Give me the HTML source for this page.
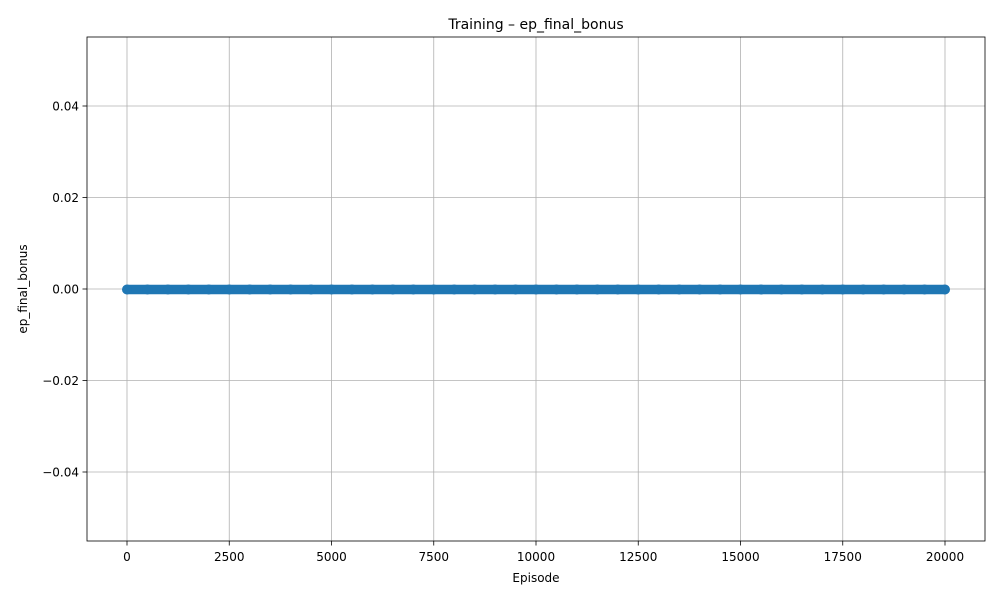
<!DOCTYPE html>
<html><head><meta charset="utf-8"><style>
body{margin:0;background:#fff;}
svg{display:block;font-family:"DejaVu Sans","Liberation Sans",sans-serif;}
</style></head><body>
<svg id="chart" width="1000" height="600" viewBox="0 0 1000 600">
<rect width="1000" height="600" fill="#fff"/>
<text x="536" y="29" font-size="14" text-anchor="middle">Training – ep_final_bonus</text>
<g id="grid"></g>
<g id="series"></g>
<rect x="87" y="37" width="898" height="504" fill="none" stroke="#000" stroke-width="0.8"/>
<g id="ticks" font-size="12"></g>
<text x="536" y="582" font-size="12" text-anchor="middle">Episode</text>
<text transform="translate(27,289) rotate(-90)" font-size="12" text-anchor="middle">ep_final_bonus</text>
</svg>
<script>
const xTicks=[0,2500,5000,7500,10000,12500,15000,17500,20000];
const yTicks=[-0.04,-0.02,0,0.02,0.04];
const yTickLabels=["\u22120.04","\u22120.02","0.00","0.02","0.04"];
const episodes=[0,500,1000,1500,2000,2500,3000,3500,4000,4500,5000,5500,6000,6500,7000,7500,8000,8500,9000,9500,10000,10500,11000,11500,12000,12500,13000,13500,14000,14500,15000,15500,16000,16500,17000,17500,18000,18500,19000,19500,20000];
const bonus=[0,0,0,0,0,0,0,0,0,0,0,0,0,0,0,0,0,0,0,0,0,0,0,0,0,0,0,0,0,0,0,0,0,0,0,0,0,0,0,0,0];
const NS="http://www.w3.org/2000/svg";
const xs=v=>127+v*(945-127)/20000;
const ys=v=>289.5-v*(289-106)/0.04;
const grid=document.getElementById('grid'),ticks=document.getElementById('ticks'),ser=document.getElementById('series');
function mk(tag,attrs,parent){const e=document.createElementNS(NS,tag);for(const k in attrs)e.setAttribute(k,attrs[k]);parent.appendChild(e);return e;}
xTicks.forEach(t=>{const x=xs(t);
 const g=mk('line',{x1:x,x2:x,y1:37,y2:541,stroke:'#b0b0b0','stroke-width':0.8},grid);
 
 
 mk('line',{x1:x,x2:x,y1:541,y2:545.5,stroke:'#000','stroke-width':0.8},ticks);
 const l=mk('text',{x:x,y:561,'text-anchor':'middle'},ticks);l.textContent=t;
 
 
});
yTicks.forEach((t,i)=>{const y=289-t*(289-106)/0.04;
 const g=mk('line',{x1:87,x2:985,y1:y,y2:y,stroke:'#b0b0b0','stroke-width':0.8},grid);
 
 
 mk('line',{x1:82.5,x2:87,y1:y,y2:y,stroke:'#000','stroke-width':0.8},ticks);
 const l=mk('text',{x:79,y:y+4.5,'text-anchor':'end'},ticks);l.textContent=yTickLabels[i];
 
 
});
const pts=episodes.map((e,i)=>xs(e)+','+ys(bonus[i])).join(' ');
const pl=mk('polyline',{points:pts,fill:'none',stroke:'#1f77b4','stroke-width':9.5,'stroke-linecap':'round'},ser);


episodes.forEach((e,i)=>{
 const c=mk('circle',{cx:xs(e),cy:ys(bonus[i]),r:5,fill:'#1f77b4'},ser);
 
 
});
</script>
</body></html>
